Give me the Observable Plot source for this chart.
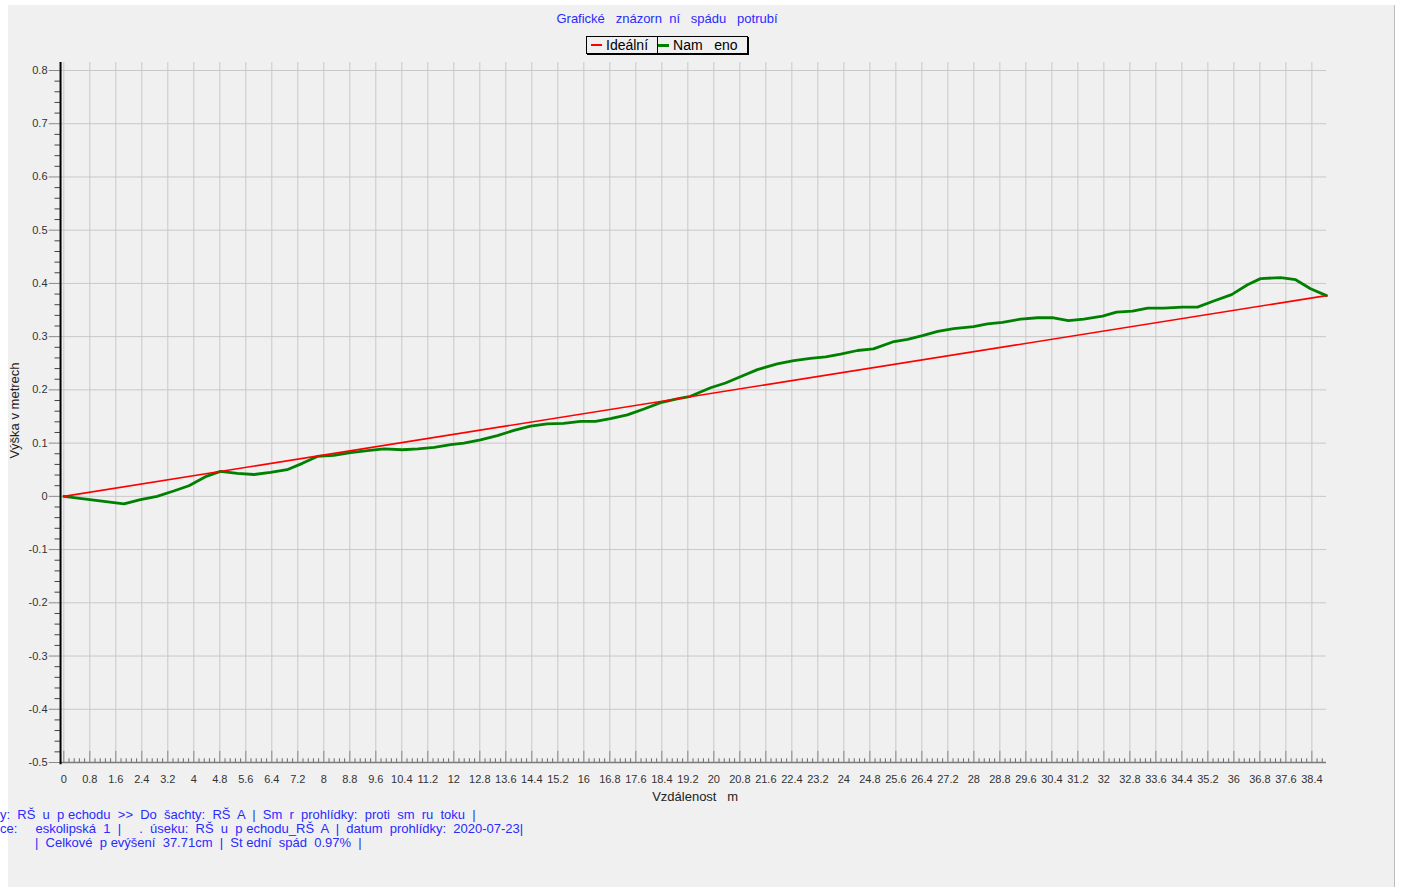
<!DOCTYPE html>
<html>
<head>
<meta charset="utf-8">
<script src="https://cdn.jsdelivr.net/npm/d3@7"></script>
<script src="https://cdn.jsdelivr.net/npm/@observablehq/plot@0.6"></script>
<style>
  html, body { margin: 0; padding: 0; background: #ffffff; width: 1401px; height: 889px; overflow: hidden; }
  body { position: relative; font-family: "Liberation Sans", Arial, sans-serif; }
  #panel { position: absolute; left: 8px; top: 5px; width: 1386px; height: 882px; background: #f0f0f0; border-right: 1px solid #bdbdbd; }
  #title { position: absolute; top: 11px; left: 0; width: 1334px; text-align: center; font-size: 13px; color: #2a2aff; white-space: pre; line-height: 15px; }
  #legend { position: absolute; left: 586px; top: 36px; height: 16px; border: 1px solid #000; box-shadow: 1px 1px 0 #000; display: flex; font-size: 14px; color: #000; white-space: pre; line-height: 16px; }
  #legend .item { display: flex; align-items: center; padding: 0 9px 0 4px; }
  #legend .item + .item { border-left: 1px solid #000; padding-left: 0; }
  #legend .sw { display: inline-block; width: 11px; margin-right: 4px; }
  #chart { position: absolute; left: 0; top: 55px; }
  .cap { position: absolute; font-size: 13px; color: #2a2aff; white-space: pre; line-height: 14px; }
</style>
</head>
<body>
<div id="panel"></div>
<div id="title"></div>
<div id="legend"></div>
<div id="chart"></div>
<div class="cap" id="cap1" style="top:808px; left:0px;"></div>
<div class="cap" id="cap2" style="top:822px; left:0px;"></div>
<div class="cap" id="cap3" style="top:836px; left:35px;"></div>
<script>
// ---- data ----
const titleText = "Grafické   znázorn  ní   spádu   potrubí";
const seriesNames = ["Ideální", "Nam   eno"];
const seriesColors = ["#ff0000", "#008000"];
const xAxisTitle = "Vzdálenost   m";
const yAxisTitle = "Výška v metrech";
const captionLines = [
  "y:  RŠ  u  p echodu  >>  Do  šachty:  RŠ  A  |  Sm  r  prohlídky:  proti  sm  ru  toku  |",
  "ce:     eskolipská  1  |     .  úseku:  RŠ  u  p echodu_RŠ  A  |  datum  prohlídky:  2020-07-23|",
  "|  Celkové  p evýšení  37.71cm  |  St ední  spád  0.97%  |"
];

const xTickLabels = ["0","0.8","1.6","2.4","3.2","4","4.8","5.6","6.4","7.2","8","8.8","9.6","10.4","11.2","12","12.8","13.6","14.4","15.2","16","16.8","17.6","18.4","19.2","20","20.8","21.6","22.4","23.2","24","24.8","25.6","26.4","27.2","28","28.8","29.6","30.4","31.2","32","32.8","33.6","34.4","35.2","36","36.8","37.6","38.4"];
const yTickLabels = ["0.8","0.7","0.6","0.5","0.4","0.3","0.2","0.1","0","-0.1","-0.2","-0.3","-0.4","-0.5"];

// Ideal line (m)
const idealX = [0, 38.85];
const idealY = [0, 0.3771];

// Measured line (m)
const measX = [0, 1.85, 2.36, 2.87, 3.38, 3.85, 4.36, 4.82, 5.34, 5.85, 6.36, 6.87, 7.34, 7.8, 8.31, 8.82, 9.34, 9.85, 10.41, 10.9, 11.4, 11.9, 12.31, 12.82, 13.34, 13.85, 14.36, 14.87, 15.38, 15.9, 16.36, 16.82, 17.34, 17.85, 18.36, 18.87, 19.28, 19.9, 20.36, 20.87, 21.34, 21.95, 22.46, 22.97, 23.44, 23.9, 24.42, 24.91, 25.5, 25.96, 26.42, 26.89, 27.38, 27.99, 28.42, 28.88, 29.44, 29.96, 30.45, 30.91, 31.38, 31.96, 32.39, 32.88, 33.35, 33.84, 34.42, 34.88, 35.38, 35.93, 36.42, 36.82, 37.44, 37.9, 38.36, 38.85];
const measY = [0, -0.014, -0.006, 0.0, 0.01, 0.02, 0.037, 0.047, 0.043, 0.041, 0.045, 0.05, 0.062, 0.075, 0.077, 0.082, 0.086, 0.089, 0.0875, 0.089, 0.092, 0.097, 0.1, 0.106, 0.114, 0.124, 0.132, 0.136, 0.137, 0.141, 0.141, 0.146, 0.153, 0.164, 0.176, 0.183, 0.188, 0.204, 0.213, 0.226, 0.238, 0.249, 0.255, 0.259, 0.262, 0.267, 0.274, 0.277, 0.29, 0.295, 0.302, 0.31, 0.315, 0.319, 0.324, 0.327, 0.333, 0.3355, 0.3355, 0.33, 0.333, 0.3385, 0.346, 0.348, 0.3535, 0.3535, 0.3555, 0.3555, 0.367, 0.379, 0.3975, 0.409, 0.411, 0.407, 0.39, 0.3771];

// ---- build ----
const xTicks = xTickLabels.map(Number);
const yTicks = yTickLabels.map(Number);
const xMax = 38.85, yMin = -0.5, yTop = 0.815, xAxisPos = -0.1;
const xMinor = d3.range(0, xMax, 0.16).filter(v => Math.abs(v / 0.8 - Math.round(v / 0.8)) > 1e-6);
const yMinor = d3.range(-0.5, 0.8001, 0.02).filter(v => Math.abs(v * 10 - Math.round(v * 10)) > 1e-6);

const ideal = idealX.map((x, i) => ({x, y: idealY[i]}));
const meas = measX.map((x, i) => ({x, y: measY[i]}));

const chart = Plot.plot({
  width: 1401,
  height: 760,
  marginLeft: 63.3,
  marginRight: 75,
  marginTop: 15,
  marginBottom: 53,
  style: {background: "transparent", fontFamily: "'Liberation Sans', Arial, sans-serif", overflow: "visible"},
  x: {domain: [0, xMax], axis: null},
  y: {domain: [yMin, 0.8], axis: null},
  marks: [
    Plot.ruleX(xTicks, {x: d => d, y1: yMin, y2: yTop, stroke: "#c8c8c8", strokeWidth: 1}),
    Plot.ruleY(yTicks, {y: d => d, x1: xAxisPos, x2: xMax, stroke: "#c8c8c8", strokeWidth: 1}),
    Plot.ruleX(xTicks, {x: d => d, y1: yMin, y2: yMin + 0.021, stroke: "#8a8a8a", strokeWidth: 1}),
    Plot.ruleX(xMinor, {x: d => d, y1: yMin, y2: yMin + 0.007, stroke: "#6a6a6a", strokeWidth: 1}),
    Plot.ruleY([yMin], {x1: xAxisPos, x2: xMax, stroke: "#7a7a7a", strokeWidth: 1.5}),
    Plot.ruleY(yTicks, {y: d => d, x1: -0.45, x2: xAxisPos, stroke: "#8a8a8a", strokeWidth: 1}),
    Plot.ruleY(yMinor, {y: d => d, x1: -0.27, x2: xAxisPos, stroke: "#444", strokeWidth: 1}),
    Plot.ruleX([xAxisPos], {y1: yMin - 0.004, y2: yTop, stroke: "#000", strokeWidth: 2}),
    Plot.text(yTicks, {x: -0.5, y: d => d, text: (d, i) => yTickLabels[i], textAnchor: "end", fontSize: 11, fill: "#333"}),
    Plot.text(xTicks, {x: d => d, y: yMin, dy: 17, text: (d, i) => xTickLabels[i], textAnchor: "middle", fontSize: 11, fill: "#333"}),
    Plot.text([xAxisTitle], {frameAnchor: "bottom", dy: 34, text: d => d, fontSize: 13, fill: "#222", lineAnchor: "middle"}),
    Plot.text([yAxisTitle], {frameAnchor: "left", dx: -49, dy: -6, rotate: -90, textAnchor: "middle", text: d => d, fontSize: 13, fill: "#222"}),
    Plot.line(meas, {x: "x", y: "y", stroke: seriesColors[1], strokeWidth: 2.8, strokeLinejoin: "round"}),
    Plot.line(ideal, {x: "x", y: "y", stroke: seriesColors[0], strokeWidth: 1.6})
  ]
});
document.getElementById("chart").appendChild(chart);

document.getElementById("title").textContent = titleText;
const legend = document.getElementById("legend");
seriesNames.forEach((name, i) => {
  const item = document.createElement("div");
  item.className = "item";
  const sw = document.createElement("span");
  sw.className = "sw";
  sw.style.borderTop = (i === 0 ? 2 : 3) + "px solid " + seriesColors[i];
  item.appendChild(sw);
  const t = document.createElement("span");
  t.textContent = name;
  item.appendChild(t);
  legend.appendChild(item);
});
captionLines.forEach((line, i) => {
  document.getElementById("cap" + (i + 1)).textContent = line;
});
</script>
</body>
</html>
